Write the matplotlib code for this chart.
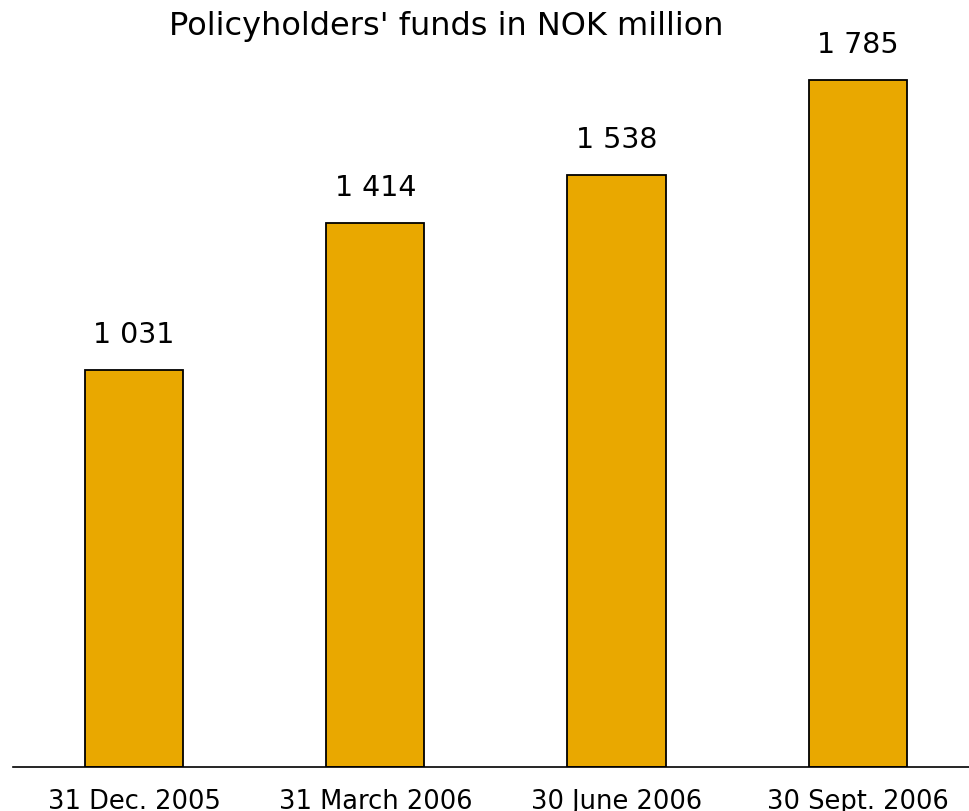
import matplotlib.pyplot as plt

dates = ["31 Dec. 2005", "31 March 2006", "30 June 2006", "30 Sept. 2006"]
funds = [1031, 1414, 1538, 1785]
labels = ["1 031", "1 414", "1 538", "1 785"]

fig = plt.figure(figsize=(9.7, 8.12), dpi=100)
ax = fig.add_axes([13 / 970, 44 / 812, 957 / 970, 731 / 812])

x = range(len(dates))
bars = ax.bar(x, funds, width=0.407, color="#E9A800",
              edgecolor="black", linewidth=1.3)

for b, lab in zip(bars, labels):
    ax.text(b.get_x() + b.get_width() / 2, b.get_height() + 58, lab,
            ha="center", va="bottom", fontsize=20.5)

ax.set_xlim(-0.502, 3.465)
ax.set_ylim(0, 1900)
ax.set_xticks(list(x))
ax.set_xticklabels(dates, fontsize=18.5)
ax.tick_params(axis="x", length=0, pad=15)
ax.set_yticks([])
for side in ["top", "right", "left"]:
    ax.spines[side].set_visible(False)
ax.spines["bottom"].set_linewidth(1.2)

fig.text(446 / 970, 1 - 27 / 812, "Policyholders' funds in NOK million",
         ha="center", va="center", fontsize=23)

fig.savefig("out.png", dpi=100)
